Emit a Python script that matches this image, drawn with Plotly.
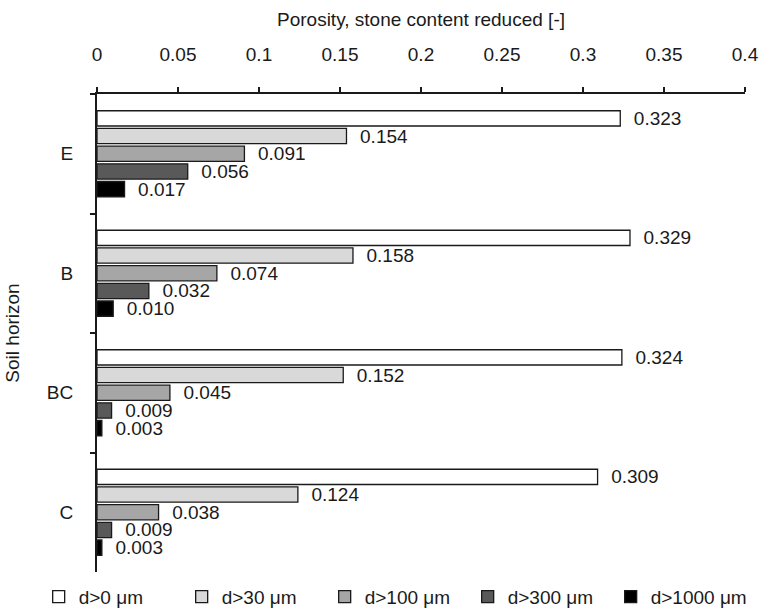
import plotly.graph_objects as go

horizons = ["E", "B", "BC", "C"]
series_names = ["d>0 μm", "d>30 μm", "d>100 μm", "d>300 μm", "d>1000 μm"]
d0 = [0.323, 0.329, 0.324, 0.309]
d30 = [0.154, 0.158, 0.152, 0.124]
d100 = [0.091, 0.074, 0.045, 0.038]
d300 = [0.056, 0.032, 0.009, 0.009]
d1000 = [0.017, 0.010, 0.003, 0.003]
series_values = [d0, d30, d100, d300, d1000]
colors = ["#ffffff", "#d9d9d9", "#a6a6a6", "#595959", "#000000"]
x_tickvals = [0, 0.05, 0.1, 0.15, 0.2, 0.25, 0.3, 0.35, 0.4]
x_ticktext = ["0", "0.05", "0.1", "0.15", "0.2", "0.25", "0.3", "0.35", "0.4"]

FONT = "Liberation Sans, Arial, sans-serif"
FS = 19

fig = go.Figure()
for name, vals, col in zip(series_names, series_values, colors):
    fig.add_trace(go.Bar(
        y=horizons, x=vals, name=name, orientation="h",
        marker=dict(color=col, line=dict(color="#1a1a1a", width=1.3)),
        text=["  " + f"{v:.3f}" for v in vals],
        textposition="outside", constraintext="none", cliponaxis=False,
        textfont=dict(family=FONT, size=FS, color="#1a1a1a"),
        hoverinfo="skip",
    ))

fig.update_layout(
    width=761, height=610,
    paper_bgcolor="white", plot_bgcolor="white",
    font=dict(family=FONT, size=FS, color="#1a1a1a"),
    barmode="group", bargap=0.26, bargroupgap=0.14,
    margin=dict(l=97, r=16, t=94, b=38, autoexpand=False),
    showlegend=True,
    legend=dict(orientation="h", x=-0.09, xanchor="left", y=-0.012, yanchor="top",
                entrywidth=98, entrywidthmode="pixels", itemwidth=30,
                font=dict(family=FONT, size=FS, color="#1a1a1a"),
                traceorder="normal"),
)
fig.update_xaxes(
    side="top", range=[0, 0.4], tickvals=x_tickvals, ticktext=x_ticktext,
    ticks="outside", ticklen=5, tickwidth=1.5, tickcolor="#1a1a1a",
    showline=True, linecolor="#1a1a1a", linewidth=2,
    showgrid=False, zeroline=False, ticklabelstandoff=18,
    title=dict(text="Porosity, stone content reduced [-]", standoff=13,
               font=dict(family=FONT, size=FS)),
)
fig.update_yaxes(
    type="category", categoryorder="array", categoryarray=horizons,
    autorange="reversed", tickson="boundaries",
    ticks="outside", ticklen=5, tickwidth=1.5, tickcolor="#1a1a1a",
    showline=True, linecolor="#1a1a1a", linewidth=2,
    showgrid=False, zeroline=False, ticklabelstandoff=18,
    title=dict(text="Soil horizon", standoff=22, font=dict(family=FONT, size=FS)),
)

fig.write_html("out.html", config={"displayModeBar": False},
               post_script="document.body.style.margin='0';document.body.style.padding='0';")
